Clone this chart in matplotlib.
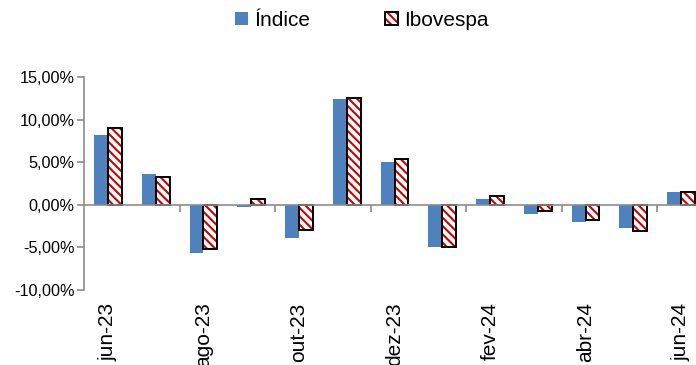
import numpy as np
import matplotlib
matplotlib.use("Agg")
import matplotlib.pyplot as plt
from matplotlib.patches import Patch
from matplotlib.ticker import FuncFormatter

months = ["jun-23", "jul-23", "ago-23", "set-23", "out-23", "nov-23", "dez-23",
          "jan-24", "fev-24", "mar-24", "abr-24", "mai-24", "jun-24"]
indice = [8.2, 3.6, -5.65, -0.3, -3.9, 12.4, 5.0, -4.95, 0.7, -1.05, -2.05, -2.7, 1.5]
ibovespa = [9.0, 3.25, -5.15, 0.7, -3.0, 12.55, 5.4, -4.9, 1.0, -0.75, -1.8, -3.1, 1.5]

plt.rcParams['font.family'] = ['Liberation Sans', 'DejaVu Sans']
plt.rcParams['hatch.linewidth'] = 1.5

blue = '#4F81BD'
red = '#CC0000'
gray = '#8C8C8C'
hatch = '\\\\\\\\'

fig = plt.figure(figsize=(6.96, 3.65), dpi=100)
ax = fig.add_axes([84/696, 1 - 290/365, 621/696, 213/365])

x = np.arange(len(months))
w = 0.29
ax.bar(x - w/2, indice, w, color=blue, zorder=2)
ax.bar(x + w/2, ibovespa, w, facecolor='white', edgecolor=red, hatch=hatch,
       linewidth=0, zorder=2)
ax.bar(x + w/2, ibovespa, w, fill=False, edgecolor='black', linewidth=1.4, zorder=3)

ax.set_xlim(-0.5, len(months) - 0.5)
ax.set_ylim(-10, 15)
ax.set_yticks(np.arange(-10, 16, 5))
ax.yaxis.set_major_formatter(FuncFormatter(lambda v, p: f"{v:.2f}%".replace('.', ',')))

for s in ['top', 'right']:
    ax.spines[s].set_visible(False)
ax.spines['left'].set_color(gray)
ax.spines['left'].set_linewidth(1.2)
ax.spines['bottom'].set_position(('data', 0))
ax.spines['bottom'].set_color(gray)
ax.spines['bottom'].set_linewidth(1.2)
ax.spines['bottom'].set_zorder(4)

ax.set_xticks(np.arange(1.5, len(months) - 1, 2))
ax.tick_params(axis='x', length=5, width=1.2, color=gray, labelbottom=False)
ax.tick_params(axis='y', length=5, width=1.2, color=gray, labelsize=11.7, pad=2)

# month labels sit below the plot, every second month (cut at the bottom like the source)
sec = ax.secondary_xaxis('bottom')
sec.set_xticks(x[::2], [months[i] for i in x[::2]])
sec.tick_params(length=0, labelsize=15, labelrotation=90, pad=9)
sec.spines['bottom'].set_visible(False)

h1 = Patch(facecolor=blue)
h2a = Patch(facecolor='white', edgecolor=red, hatch=hatch, linewidth=0)
h2b = Patch(fill=False, edgecolor='black', linewidth=1.4)
fig.legend([h1, (h2a, h2b)], ['Índice', 'Ibovespa'], loc='center',
           bbox_to_anchor=(0.52, 0.945), ncol=2, frameon=False, fontsize=15,
           handlelength=0.6, handleheight=0.6, handletextpad=0.3, columnspacing=3.6)

fig.savefig('out.png', dpi=100)
